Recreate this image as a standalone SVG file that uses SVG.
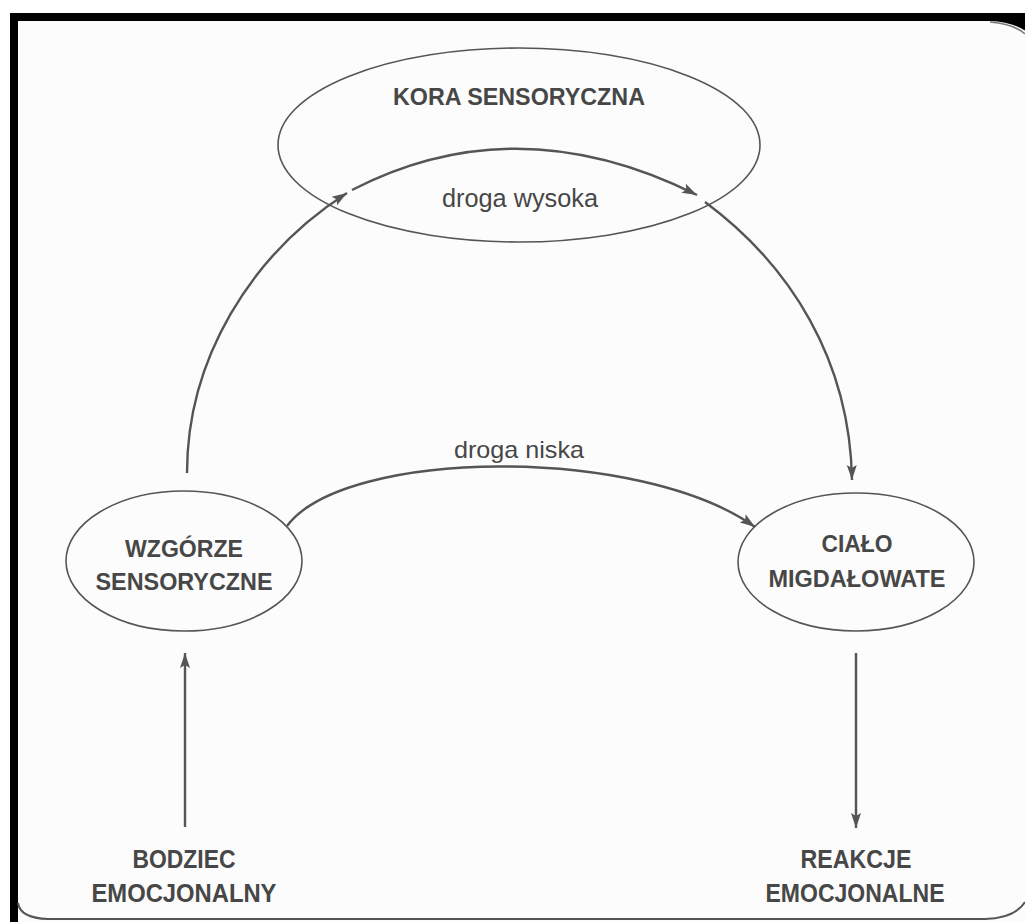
<svg xmlns="http://www.w3.org/2000/svg" width="1025" height="922" viewBox="0 0 1025 922">
<style>
.node{fill:none;stroke:#555;stroke-width:1.6}
.lbl{font-family:"Liberation Sans",Arial,sans-serif;font-weight:bold;font-size:24px;fill:#474747;text-anchor:middle}
.big{font-size:26px}
.road{font-family:"Liberation Sans",Arial,sans-serif;font-size:24px;fill:#474747;text-anchor:middle}
.conn{fill:none;stroke:#555;stroke-width:2.4}
</style>
<defs>
<marker id="ah" markerUnits="userSpaceOnUse" markerWidth="16" markerHeight="12" refX="15" refY="6" orient="auto">
<path d="M0,1 L15,6 L0,11 L3,6 Z" fill="#555"/>
</marker>
</defs>
<rect x="0" y="0" width="1025" height="922" fill="#fff"/>
<g id="frame">
<rect x="10" y="13" width="1015" height="909" fill="#000"/>
<path d="M18,21 H990 Q1018,22 1035,38 V930 H18 Z" fill="#fcfcfc"/>
<path d="M990,22 Q1014,24 1025,34" fill="none" stroke="#777" stroke-width="1.5"/>
<path d="M18,903 Q20,918 48,919 H985 Q1015,918 1025,902" fill="none" stroke="#555" stroke-width="2"/>
</g>
<g id="connectors">
<path class="conn" d="M187,473 C187,360 250,255 347,193" marker-end="url(#ah)"/>
<path class="conn" d="M352,190 Q517,105 697,195" marker-end="url(#ah)"/>
<path class="conn" d="M705,202 C790,265 850,360 852,480" marker-end="url(#ah)"/>
<path class="conn" d="M287,526 C345,448 640,445 755,527" marker-end="url(#ah)"/>
<path class="conn" d="M185,827 V653" marker-end="url(#ah)"/>
<path class="conn" d="M856,653 V828" marker-end="url(#ah)"/>
<text class="road" x="520" y="207" textLength="156" lengthAdjust="spacingAndGlyphs" style="font-size:25px">droga wysoka</text>
<text class="road" x="519" y="458" textLength="130" lengthAdjust="spacingAndGlyphs">droga niska</text>
</g>
<g id="kora">
<ellipse class="node" cx="519" cy="145" rx="241" ry="97"/>
<text class="lbl" x="519" y="105" textLength="252" lengthAdjust="spacingAndGlyphs">KORA SENSORYCZNA</text>
</g>
<g id="wzgorze">
<ellipse class="node" cx="184" cy="561" rx="118" ry="70"/>
<text class="lbl" x="184" y="557" textLength="118" lengthAdjust="spacingAndGlyphs">WZGÓRZE</text>
<text class="lbl" x="184" y="590" textLength="177" lengthAdjust="spacingAndGlyphs">SENSORYCZNE</text>
</g>
<g id="cialo">
<ellipse class="node" cx="856" cy="562" rx="118" ry="69"/>
<text class="lbl" x="857" y="552" textLength="71" lengthAdjust="spacingAndGlyphs">CIAŁO</text>
<text class="lbl" x="857" y="587" textLength="177" lengthAdjust="spacingAndGlyphs">MIGDAŁOWATE</text>
</g>
<g id="bodziec">
<text class="lbl big" x="184" y="868" textLength="103" lengthAdjust="spacingAndGlyphs">BODZIEC</text>
<text class="lbl big" x="184" y="902" textLength="185" lengthAdjust="spacingAndGlyphs">EMOCJONALNY</text>
</g>
<g id="reakcje">
<text class="lbl big" x="856" y="868" textLength="111" lengthAdjust="spacingAndGlyphs">REAKCJE</text>
<text class="lbl big" x="855" y="902" textLength="179" lengthAdjust="spacingAndGlyphs">EMOCJONALNE</text>
</g>
</svg>
